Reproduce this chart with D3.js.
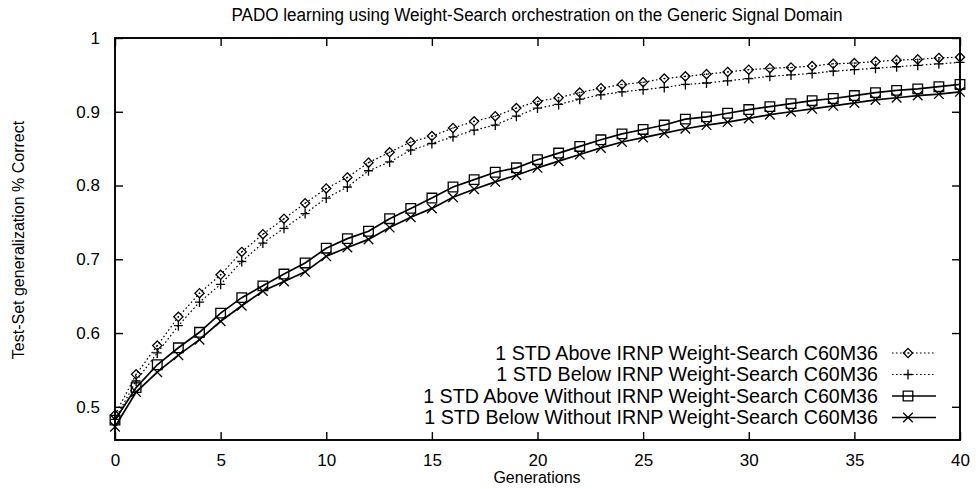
<!DOCTYPE html>
<html>
<head>
<meta charset="utf-8">
<script src="https://cdn.jsdelivr.net/npm/d3@7"></script>
<style>
  html, body { margin: 0; padding: 0; background: #fff; }
  svg { display: block; }
  text { font-family: "Liberation Sans", Arial, Helvetica, sans-serif; fill: #000; }
</style>
</head>
<body>
<svg id="chart" width="976" height="489"></svg>
<script>
// Generations on the x axis
const generations = [0,1,2,3,4,5,6,7,8,9,10,11,12,13,14,15,16,17,18,19,20,
                     21,22,23,24,25,26,27,28,29,30,31,32,33,34,35,36,37,38,39,40];

// Test-set generalization (fraction correct), one value per generation
const aboveIRNP = [0.489,0.544,0.583,0.622,0.654,0.679,0.710,0.734,0.755,0.776,0.796,
                   0.811,0.831,0.845,0.859,0.867,0.878,0.887,0.894,0.905,0.914,
                   0.919,0.926,0.932,0.937,0.940,0.945,0.948,0.951,0.954,0.957,
                   0.959,0.960,0.962,0.965,0.966,0.968,0.970,0.971,0.973,0.974];
const belowIRNP = [0.483,0.535,0.573,0.610,0.642,0.666,0.697,0.722,0.742,0.762,0.783,
                   0.798,0.820,0.832,0.848,0.857,0.866,0.875,0.882,0.894,0.905,
                   0.910,0.917,0.923,0.927,0.930,0.933,0.937,0.939,0.942,0.945,
                   0.948,0.950,0.952,0.955,0.957,0.959,0.961,0.963,0.965,0.967];
const aboveWithout = [0.482,0.526,0.557,0.580,0.601,0.627,0.648,0.664,0.680,0.695,0.715,
                      0.728,0.738,0.755,0.769,0.783,0.798,0.808,0.818,0.824,0.835,
                      0.844,0.853,0.862,0.870,0.876,0.882,0.890,0.893,0.898,0.903,
                      0.907,0.911,0.915,0.918,0.922,0.926,0.929,0.931,0.934,0.937];
const belowWithout = [0.473,0.520,0.547,0.570,0.591,0.616,0.637,0.657,0.670,0.683,0.704,
                      0.716,0.727,0.743,0.757,0.769,0.784,0.795,0.805,0.814,0.824,
                      0.833,0.842,0.851,0.859,0.865,0.871,0.877,0.882,0.886,0.891,
                      0.896,0.900,0.904,0.908,0.912,0.916,0.919,0.922,0.924,0.927];

const seriesNames = [
  "1 STD Above IRNP Weight-Search C60M36",
  "1 STD Below IRNP Weight-Search C60M36",
  "1 STD Above Without IRNP Weight-Search C60M36",
  "1 STD Below Without IRNP Weight-Search C60M36"
];
const xTicks = [0,5,10,15,20,25,30,35,40];
const yTicks = [0.5,0.6,0.7,0.8,0.9,1];

const titleText = "PADO learning using Weight-Search orchestration on the Generic Signal Domain";
const xLabel = "Generations";
const yLabel = "Test-Set generalization % Correct";

// ---- layout ----
const svg = d3.select("#chart");
const plot = { left: 115, right: 960, top: 38, bottom: 440 };

const x = d3.scaleLinear().domain([0, 40]).range([plot.left, plot.right]);
const y = d3.scaleLinear().domain([0.455, 1]).range([plot.bottom, plot.top]);

// marker shapes
const markers = {
  diamond: "M0,-4.6L4.6,0L0,4.6L-4.6,0Z",
  plus: "M-4.5,0H4.5M0,-5V5",
  square: "M-4.8,-4.8H4.8V4.8H-4.8Z",
  cross: "M-4.8,-4.8L4.8,4.8M-4.8,4.8L4.8,-4.8"
};

const series = [
  { name: seriesNames[0], values: aboveIRNP,    marker: "diamond", dash: "1.6,2.4", width: 1.2, dot: true },
  { name: seriesNames[1], values: belowIRNP,    marker: "plus",    dash: "1.6,2.4", width: 1.2, dot: false },
  { name: seriesNames[2], values: aboveWithout, marker: "square",  dash: null,      width: 1.7, dot: false },
  { name: seriesNames[3], values: belowWithout, marker: "cross",   dash: null,      width: 1.7, dot: false }
];

// ---- axes (ticks point inward, mirrored on all four sides) ----
const tickLen = 8;
const fmtY = d => (d === 1 ? "1" : d3.format(".1f")(d));

const axB = svg.append("g").attr("transform", `translate(0,${plot.bottom})`)
  .call(d3.axisBottom(x).tickValues(xTicks).tickSizeInner(-tickLen).tickSizeOuter(0).tickPadding(14));
const axT = svg.append("g").attr("transform", `translate(0,${plot.top})`)
  .call(d3.axisTop(x).tickValues(xTicks).tickSizeInner(-tickLen).tickSizeOuter(0).tickFormat(""));
const axL = svg.append("g").attr("transform", `translate(${plot.left},0)`)
  .call(d3.axisLeft(y).tickValues(yTicks).tickSizeInner(-tickLen).tickSizeOuter(0).tickFormat(fmtY).tickPadding(15));
const axR = svg.append("g").attr("transform", `translate(${plot.right},0)`)
  .call(d3.axisRight(y).tickValues(yTicks).tickSizeInner(-tickLen).tickSizeOuter(0).tickFormat(""));

[axB, axT, axL, axR].forEach(g => {
  g.select(".domain").remove();
  g.selectAll(".tick line").attr("stroke", "#000").attr("stroke-width", 1.4);
  g.selectAll(".tick text").attr("font-size", 17).attr("fill", "#000")
    .attr("font-family", "'Liberation Sans', Arial, sans-serif");
});

// frame
svg.append("rect")
  .attr("x", plot.left).attr("y", plot.top)
  .attr("width", plot.right - plot.left).attr("height", plot.bottom - plot.top)
  .attr("fill", "none").attr("stroke", "#000").attr("stroke-width", 1.9);

// ---- series ----
const line = d3.line().x((d, i) => x(generations[i])).y(d => y(d));

series.forEach(s => {
  const g = svg.append("g");
  g.append("path")
    .attr("d", line(s.values))
    .attr("fill", "none")
    .attr("stroke", "#000")
    .attr("stroke-width", s.width)
    .attr("stroke-dasharray", s.dash);
  g.selectAll("path.mk").data(s.values).join("path")
    .attr("class", "mk")
    .attr("transform", (d, i) => `translate(${x(generations[i])},${y(d)})`)
    .attr("d", markers[s.marker])
    .attr("fill", "none")
    .attr("stroke", "#000")
    .attr("stroke-width", 1.3);
  if (s.dot) {
    g.selectAll("circle").data(s.values).join("circle")
      .attr("cx", (d, i) => x(generations[i])).attr("cy", d => y(d))
      .attr("r", 0.8).attr("fill", "#000");
  }
});

// ---- legend ----
const legendRight = 878;   // right edge of legend text
const sampleX0 = 892, sampleX1 = 936, sampleMid = 908;
const rowY0 = 353, rowStep = 21.5;
const legendWidth = 383;

let legendFont = 16;
series.forEach((s, i) => {
  const yy = rowY0 + i * rowStep;
  const t = svg.append("text")
    .attr("x", legendRight).attr("y", yy)
    .attr("dy", "0.35em")
    .attr("text-anchor", "end")
    .attr("font-size", 16)
    .text(s.name);
  // size the text so the first entry spans the legend width
  if (i === 0) legendFont = 16 * legendWidth / t.node().getComputedTextLength();
  t.attr("font-size", legendFont);
  svg.append("line")
    .attr("x1", sampleX0).attr("x2", sampleX1).attr("y1", yy).attr("y2", yy)
    .attr("stroke", "#000").attr("stroke-width", s.width)
    .attr("stroke-dasharray", s.dash);
  svg.append("path")
    .attr("transform", `translate(${sampleMid},${yy})`)
    .attr("d", markers[s.marker])
    .attr("fill", "none").attr("stroke", "#000").attr("stroke-width", 1.3);
  if (s.dot) {
    svg.append("circle").attr("cx", sampleMid).attr("cy", yy).attr("r", 0.8).attr("fill", "#000");
  }
});

// ---- titles ----
svg.append("text")
  .attr("x", 537).attr("y", 15).attr("dy", "0.35em")
  .attr("text-anchor", "middle")
  .attr("font-size", 18)
  .attr("textLength", 611).attr("lengthAdjust", "spacingAndGlyphs")
  .text(titleText);

svg.append("text")
  .attr("x", 537).attr("y", 477).attr("dy", "0.35em")
  .attr("text-anchor", "middle")
  .attr("font-size", 16)
  .text(xLabel);

svg.append("text")
  .attr("transform", "translate(18,240) rotate(-90)")
  .attr("dy", "0.35em")
  .attr("text-anchor", "middle")
  .attr("font-size", 16)
  .text(yLabel);
</script>
</body>
</html>
